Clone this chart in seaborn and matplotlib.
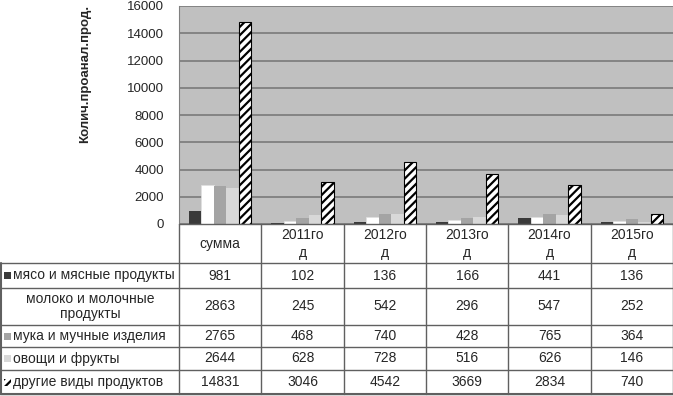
import matplotlib
matplotlib.use("Agg")
import matplotlib.pyplot as plt
import seaborn as sns
import pandas as pd
from matplotlib.patches import Rectangle

categories = ["сумма", "2011го\nд", "2012го\nд", "2013го\nд", "2014го\nд", "2015го\nд"]
series_names = ["мясо и мясные продукты", "молоко и молочные\nпродукты",
                "мука и мучные изделия", "овощи и фрукты", "другие виды продуктов"]
meat = [981, 102, 136, 166, 441, 136]
milk = [2863, 245, 542, 296, 547, 252]
flour = [2765, 468, 740, 428, 765, 364]
veg = [2644, 628, 728, 516, 626, 146]
other = [14831, 3046, 4542, 3669, 2834, 740]
yticks = [0, 2000, 4000, 6000, 8000, 10000, 12000, 14000, 16000]

series_values = [meat, milk, flour, veg, other]
colors = ["#3a3a3a", "#ffffff", "#a4a4a4", "#d8d8d8", "#ffffff"]

rows = []
for name, vals in zip(series_names, series_values):
    for cat, v in zip(categories, vals):
        rows.append({"cat": cat, "series": name, "value": v})
df = pd.DataFrame(rows)

sns.set_style("white")
plt.rcParams['font.family'] = ['Liberation Sans', 'DejaVu Sans']
plt.rcParams['hatch.linewidth'] = 1.6

W, H = 673, 396
fig = plt.figure(figsize=(W / 100, H / 100), dpi=100)
fig.patch.set_facecolor("white")

ax_l, ax_r, ax_t, ax_b = 179, 673, 6, 224
ax = fig.add_axes([ax_l / W, 1 - ax_b / H, (ax_r - ax_l) / W, (ax_b - ax_t) / H])
ax.set_facecolor("#c0c0c0")

sns.barplot(data=df, x="cat", y="value", hue="series", order=categories,
            hue_order=series_names, palette=colors, width=0.76, ax=ax,
            legend=False, saturation=1)

for i, cont in enumerate(ax.containers):
    for bar in cont:
        if i == 4:
            bar.set_hatch("////")
            bar.set_edgecolor("black")
            bar.set_linewidth(0.8)
        elif i == 1:
            bar.set_edgecolor("#e0e0e0")
            bar.set_linewidth(0.5)
        else:
            bar.set_linewidth(0)

ax.set_xlim(-0.5, len(categories) - 0.5)
ax.set_ylim(0, 16000)
ax.set_yticks(yticks)
ax.set_yticklabels([str(t) for t in yticks], fontsize=9.5)
ax.set_xticks([])
ax.set_xlabel("")
ax.set_ylabel("")
ax.tick_params(axis="y", length=0, pad=11)
ax.yaxis.grid(True, color="#7a7a7a", linewidth=1.2)
ax.set_axisbelow(True)
for s in ["top", "right", "bottom"]:
    ax.spines[s].set_visible(False)
ax.spines["left"].set_color("#808080")

fig.text(85 / W, 1 - 143 / H, "Колич.проанал.прод.", rotation=90,
         ha="center", va="bottom", fontsize=9.5, fontweight="bold")

# data table drawn in pixel coordinates
ov = fig.add_axes([0, 0, 1, 1])
ov.set_xlim(0, W)
ov.set_ylim(H, 0)
ov.axis("off")

col_w = (ax_r - ax_l) / len(categories)
col_x = [ax_l + i * col_w for i in range(len(categories) + 1)]
row_y = [224, 263, 288, 325, 347, 370, 394]
lc = "#606060"
fs = 10

for x in col_x:
    ov.plot([x, x], [row_y[0], row_y[-1]], color=lc, lw=1)
ov.plot([col_x[0], col_x[-1]], [row_y[0], row_y[0]], color=lc, lw=1)
for y in row_y[1:]:
    ov.plot([0, col_x[-1]], [y, y], color=lc, lw=1)
ov.plot([1, 1], [row_y[1], row_y[-1]], color=lc, lw=1.5)
ov.plot([0, W], [row_y[-1], row_y[-1]], color=lc, lw=1.5)

for i, cat in enumerate(categories):
    cx = (col_x[i] + col_x[i + 1]) / 2
    ov.text(cx, (row_y[0] + row_y[1]) / 2 + 0.5, cat, ha="center", va="center",
            fontsize=fs, linespacing=1.3)

for r, (name, vals) in enumerate(zip(series_names, series_values)):
    cy = (row_y[r + 1] + row_y[r + 2]) / 2
    if r == 1:
        ov.text(90, cy, name, ha="center", va="center", fontsize=fs,
                linespacing=1.15)
    else:
        if r == 4:
            ov.add_patch(Rectangle((4, cy - 3.5), 7, 7, facecolor="white",
                                   edgecolor="black", hatch="////", lw=0))
        else:
            ov.add_patch(Rectangle((4, cy - 3.5), 7, 7, facecolor=colors[r], lw=0))
        ov.text(13, cy, name, ha="left", va="center", fontsize=fs)
    for i, v in enumerate(vals):
        cx = (col_x[i] + col_x[i + 1]) / 2
        ov.text(cx, cy, str(v), ha="center", va="center", fontsize=fs)

fig.savefig("out.png", dpi=100)
